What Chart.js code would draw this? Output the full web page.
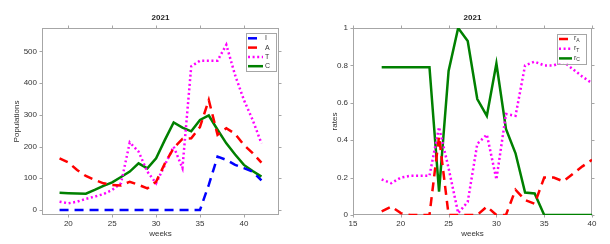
<!DOCTYPE html>
<html>
<head>
<meta charset="utf-8">
<script src="https://cdn.jsdelivr.net/npm/chart.js@4/dist/chart.umd.min.js"></script>
<style>
  html, body { margin: 0; padding: 0; background: #fff; }
  #wrap { position: relative; width: 610px; height: 244px; }
  canvas { position: absolute; top: 0; }
</style>
</head>
<body>
<div id="wrap">
  <canvas id="left" width="305" height="244" style="left:0"></canvas>
  <canvas id="right" width="305" height="244" style="left:305px"></canvas>
</div>
<script>
// ---------- Data: left panel (populations) ----------
const weeksL = [19,20,21,22,23,24,25,26,27,28,29,30,31,32,33,34,35,36,37,38,39,40,41,42];
const popI = [0,0,0,0,0,0,0,0,0,0,0,0,0,0,0,0,0,79,168,158,142,132,121,93];
const popA = [163,150,126,107,95,84,79,77,89,79,68,89,147,195,224,226,262,347,237,258,240,205,179,149];
const popT = [26,21,26,35,42,50,63,84,213,184,121,84,142,200,132,453,471,471,471,521,425,347,284,210];
const popC = [54,53,52,51,63,76,87,104,121,147,131,163,221,276,260,248,284,298,253,210,175,142,123,105];
const xTicksL = [20,25,30,35,40];
const yTicksL = [0,100,200,300,400,500];
const yTickLabelsL = ['0','100','200','300','400','500'];
const namesL = ['I','A','T','C'];

// ---------- Data: right panel (rates) ----------
const weeksR = [18,19,20,21,22,23,24,25,26,27,28,29,30,31,32,33,34,35,36,37,38,39,40];
const rateA = [0.02,0.045,0.01,0,0,0,0.42,0,0,0,0,0.045,0,0,0.135,0.08,0.06,0.2,0.2,0.18,0.22,0.26,0.295];
const rateT = [0.19,0.17,0.2,0.21,0.21,0.21,0.47,0.25,0.01,0.07,0.38,0.43,0.19,0.54,0.53,0.8,0.82,0.8,0.8,0.82,0.78,0.74,0.705];
const rateC = [0.79,0.79,0.79,0.79,0.79,0.79,0.125,0.77,1.0,0.93,0.62,0.53,0.81,0.46,0.33,0.12,0.115,0,0,0,0,0,0];
const xTicksR = [15,20,25,30,35,40];
const yTicksR = [0,0.2,0.4,0.6,0.8,1];
const yTickLabelsR = ['0','0.2','0.4','0.6','0.8','1'];
const namesR = [['r','A'],['r','T'],['r','C']];

const FONT = '"Liberation Sans", Arial, sans-serif';
const BLUE = '#0000ff', RED = '#ff0000', MAG = '#ff00ff', GREEN = '#008000';
const DASH = [9,6], DOT = [2,2.6];

function series(xs, ys) { return xs.map((x, i) => ({ x: x, y: ys[i] })); }
function ds(label, xs, ys, color, dash) {
  return { label: label, data: series(xs, ys), borderColor: color, backgroundColor: color,
    borderWidth: 2.5, borderDash: dash, borderCapStyle: 'butt', borderJoinStyle: 'miter',
    pointRadius: 0, tension: 0, fill: false };
}

// frame + outward ticks
const framePlugin = {
  id: 'frame',
  beforeDatasetsDraw(chart) {
    const { ctx, chartArea: a, scales } = chart;
    const L = Math.round(a.left) + 0.5, R = Math.round(a.right) - 0.5;
    const T = Math.round(a.top) + 0.5, B = Math.round(a.bottom) - 0.5;
    ctx.save();
    ctx.strokeStyle = '#a6a6a6';
    ctx.lineWidth = 1;
    ctx.strokeRect(L, T, R - L, B - T);
    ctx.beginPath();
    scales.x.ticks.forEach(t => {
      const p = Math.round(scales.x.getPixelForValue(t.value)) + 0.5;
      ctx.moveTo(p, B); ctx.lineTo(p, B + 3);
      ctx.moveTo(p, T); ctx.lineTo(p, T - 3);
    });
    scales.y.ticks.forEach(t => {
      const p = Math.round(scales.y.getPixelForValue(t.value)) + 0.5;
      ctx.moveTo(L, p); ctx.lineTo(L - 3, p);
      ctx.moveTo(R, p); ctx.lineTo(R + 3, p);
    });
    ctx.stroke();
    ctx.restore();
  }
};

// titles, axis labels, legend
const textPlugin = {
  id: 'texts',
  afterDraw(chart, args, o) {
    const { ctx, chartArea: a } = chart;
    const cx = (a.left + a.right) / 2, cy = (a.top + a.bottom) / 2;
    ctx.save();
    ctx.fillStyle = '#262626';
    ctx.textAlign = 'center';
    ctx.textBaseline = 'middle';
    ctx.font = 'bold 8px ' + FONT;
    ctx.fillText(o.title, cx, 17.5);
    ctx.font = '8px ' + FONT;
    ctx.fillStyle = '#333';
    ctx.fillText(o.xlabel, cx, 234);
    ctx.save();
    ctx.translate(o.ylabelX, cy);
    ctx.rotate(-Math.PI / 2);
    ctx.fillText(o.ylabel, 0, 0);
    ctx.restore();
    // legend
    const lg = o.legend;
    ctx.fillStyle = '#fff';
    ctx.fillRect(lg.x, lg.y, lg.w, lg.h);
    ctx.strokeStyle = '#a6a6a6';
    ctx.lineWidth = 1;
    ctx.strokeRect(Math.round(lg.x) + 0.5, Math.round(lg.y) + 0.5, Math.round(lg.w), Math.round(lg.h));
    chart.data.datasets.forEach((d, i) => {
      const y = lg.y + lg.first + i * lg.step;
      ctx.save();
      ctx.strokeStyle = d.borderColor;
      ctx.lineWidth = 2.5;
      ctx.setLineDash(d.borderDash || []);
      ctx.beginPath();
      ctx.moveTo(lg.x + 2, y);
      ctx.lineTo(lg.x + 2 + lg.sample, y);
      ctx.stroke();
      ctx.restore();
      ctx.fillStyle = '#333';
      ctx.textAlign = 'left';
      ctx.textBaseline = 'middle';
      const nm = lg.names[i];
      const tx = lg.x + 4 + lg.sample;
      if (Array.isArray(nm)) {
        ctx.font = '7px ' + FONT;
        ctx.fillText(nm[0], tx, y - 0.5);
        const w = ctx.measureText(nm[0]).width;
        ctx.font = '5px ' + FONT;
        ctx.fillText(nm[1], tx + w, y + 1.5);
      } else {
        ctx.font = '7px ' + FONT;
        ctx.fillText(nm, tx, y);
      }
    });
    ctx.restore();
  }
};

function makeOptions(xMin, xMax, yMin, yMax, xTicks, yTicks, yLabels, yWidth, padRight, texts) {
  return {
    responsive: false, animation: false, devicePixelRatio: 1,
    layout: { padding: { left: 0, top: 28, right: padRight, bottom: 0 } },
    plugins: { legend: { display: false }, tooltip: { enabled: false }, texts: texts },
    scales: {
      x: {
        type: 'linear', position: 'bottom', min: xMin, max: xMax,
        grid: { display: false, drawTicks: false }, border: { display: false },
        afterBuildTicks: s => { s.ticks = xTicks.map(v => ({ value: v })); },
        afterFit: s => { s.height = 29; },
        ticks: { color: '#333', font: { family: FONT, size: 8 }, padding: 4, maxRotation: 0,
                 callback: v => String(v) }
      },
      y: {
        type: 'linear', position: 'left', min: yMin, max: yMax,
        grid: { display: false, drawTicks: false }, border: { display: false },
        afterBuildTicks: s => { s.ticks = yTicks.map(v => ({ value: v })); },
        afterFit: s => { s.width = yWidth; },
        ticks: { color: '#333', font: { family: FONT, size: 8 }, padding: 5,
                 callback: v => { const i = yTicks.indexOf(v); return i >= 0 ? yLabels[i] : ''; } }
      }
    }
  };
}

new Chart(document.getElementById('left'), {
  type: 'line',
  data: { datasets: [
    ds('I', weeksL, popI, BLUE, DASH),
    ds('A', weeksL, popA, RED, DASH),
    ds('T', weeksL, popT, MAG, DOT),
    ds('C', weeksL, popC, GREEN, [])
  ] },
  options: makeOptions(17, 44, -16, 574, xTicksL, yTicksL, yTickLabelsL, 42, 26,
    { title: '2021', xlabel: 'weeks', ylabel: 'Populations', ylabelX: 17,
      legend: { x: 246, y: 32.5, w: 30, h: 38, first: 5.8, step: 9.3, sample: 15, names: namesL } }),
  plugins: [framePlugin, textPlugin]
});

new Chart(document.getElementById('right'), {
  type: 'line',
  data: { datasets: [
    ds('rA', weeksR, rateA, RED, DASH),
    ds('rT', weeksR, rateT, MAG, DOT),
    ds('rC', weeksR, rateC, GREEN, [])
  ] },
  options: makeOptions(15, 40, 0, 1, xTicksR, yTicksR, yTickLabelsR, 48, 18,
    { title: '2021', xlabel: 'weeks', ylabel: 'rates', ylabelX: 29.5,
      legend: { x: 252, y: 34, w: 29, h: 29.5, first: 5, step: 9.7, sample: 13, names: namesR } }),
  plugins: [framePlugin, textPlugin]
});
</script>
</body>
</html>
